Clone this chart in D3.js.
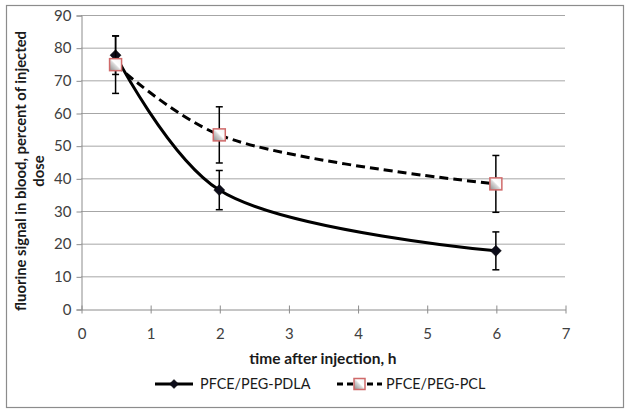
<!DOCTYPE html>
<html><head><meta charset="utf-8">
<script src="https://cdn.jsdelivr.net/npm/d3@7"></script>
<style>body{margin:0;background:#fff}svg{display:block}text{font-family:Lato,"Open Sans",sans-serif}</style>
</head><body><svg id="c" width="629" height="413"></svg>
<script>
const times = [0.5, 2, 6];
const pdlaValues = [77.7, 36.4, 17.8];
const pdlaErrors = [5.9, 6.0, 5.8];
const pclValues = [74.8, 53.3, 38.3];
const pclErrors = [8.8, 8.6, 8.7];
const seriesNames = ["PFCE/PEG-PDLA", "PFCE/PEG-PCL"];
const xTicks = [0,1,2,3,4,5,6,7];
const yTicks = [0,10,20,30,40,50,60,70,80,90];
const xTitle = "time after injection, h";
const yTitleLines = ["fluorine signal in blood, percent of injected", "dose"];

const svg = d3.select("#c");
svg.append("rect").attr("x",6.5).attr("y",5.5).attr("width",617).attr("height",402)
  .attr("fill","#fff").attr("stroke","#8c8c8c").attr("stroke-width",1.2);

const x = d3.scaleLinear().domain([0,7]).range([81,565]);
const y = d3.scaleLinear().domain([0,90]).range([309,15]);

const defs = svg.append("defs");
const gr = defs.append("linearGradient").attr("id","sq").attr("x1","0").attr("y1","1").attr("x2","1").attr("y2","0");
gr.append("stop").attr("offset","0").attr("stop-color","#8a8a8a");
gr.append("stop").attr("offset","0.45").attr("stop-color","#d8d8d8");
gr.append("stop").attr("offset","0.55").attr("stop-color","#ffffff");
gr.append("stop").attr("offset","1").attr("stop-color","#f0f0f0");

// gridlines
svg.append("g").selectAll("line").data(yTicks.slice(1)).join("line")
  .attr("x1",x(0)).attr("x2",x(7)).attr("y1",d=>y(d)+0.5).attr("y2",d=>y(d)+0.5)
  .attr("stroke","#a6a6a6").attr("stroke-width",1);

// y axis
const ya = svg.append("g").attr("transform",`translate(${x(0)+0.5},0.5)`)
  .call(d3.axisLeft(y).tickValues(yTicks).tickSize(5).tickPadding(5).tickFormat(d3.format("d")));
ya.selectAll("path,line").attr("stroke","#8c8c8c");
ya.selectAll("text").attr("font-size",15).attr("fill","#404040").attr("font-family","Lato,'Open Sans',sans-serif");

// x axis
const xa = svg.append("g").attr("transform",`translate(0.5,${y(0)+0.5})`)
  .call(d3.axisBottom(x).tickValues(xTicks).tickSizeInner(4).tickSizeOuter(0).tickPadding(15).tickFormat(d3.format("d")));
xa.select("path").attr("stroke","#8c8c8c");
xa.selectAll("line").attr("stroke","#8c8c8c").attr("y1",-4);
xa.selectAll("text").attr("font-size",15).attr("fill","#404040").attr("font-family","Lato,'Open Sans',sans-serif");

// titles
svg.append("text").attr("x",(x(0)+x(7))/2).attr("y",364).attr("text-anchor","middle")
  .attr("font-weight","bold").attr("font-size",15.5).attr("fill","#1a1a1a").text(xTitle);
const yt = svg.append("text").attr("transform","translate(26,171) rotate(-90)")
  .attr("text-anchor","middle").attr("font-weight","bold").attr("font-size",14.8).attr("fill","#1a1a1a");
yTitleLines.forEach((t,i)=>yt.append("tspan").attr("x",0).attr("dy",i?18:0).text(t));

const line = d3.line().x(d=>x(d[0])).y(d=>y(d[1])).curve(d3.curveCatmullRom.alpha(0.5));
const pdla = times.map((t,i)=>[t,pdlaValues[i],pdlaErrors[i]]);
const pcl = times.map((t,i)=>[t,pclValues[i],pclErrors[i]]);

function errBars(data){
  const g = svg.append("g").attr("stroke","#000").attr("stroke-width",1.5);
  data.forEach(d=>{
    const cx=x(d[0]);
    g.append("line").attr("x1",cx).attr("x2",cx).attr("y1",y(d[1]+d[2])).attr("y2",y(d[1]-d[2]));
    [d[1]+d[2],d[1]-d[2]].forEach(v=>g.append("line").attr("x1",cx-3.5).attr("x2",cx+3.5).attr("y1",y(v)).attr("y2",y(v)));
  });
}
function diamond(g,cx,cy,r){
  g.append("path").attr("d",`M${cx},${cy-r}L${cx+r},${cy}L${cx},${cy+r}L${cx-r},${cy}Z`).attr("fill","#0d0d1a").attr("stroke","#000").attr("stroke-width",0.5);
}
function square(g,cx,cy,s){
  g.append("rect").attr("x",cx-s/2).attr("y",cy-s/2).attr("width",s).attr("height",s)
    .attr("fill","url(#sq)").attr("stroke","#d06a6a").attr("stroke-width",1.5);
}

// PDLA
errBars(pdla);
svg.append("path").datum(pdla).attr("d",line).attr("fill","none").attr("stroke","#000").attr("stroke-width",3);
const mg1 = svg.append("g");
pdla.forEach(d=>diamond(mg1,x(d[0]),y(d[1]),5.5));

// PCL
errBars(pcl);
svg.append("path").datum(pcl).attr("d",line).attr("fill","none").attr("stroke","#000").attr("stroke-width",3).attr("stroke-dasharray","9,5");
const mg2 = svg.append("g");
pcl.forEach(d=>square(mg2,x(d[0]),y(d[1]),12));

// legend
const ly=384;
const lg = svg.append("g");
lg.append("line").attr("x1",155).attr("x2",193).attr("y1",ly).attr("y2",ly).attr("stroke","#000").attr("stroke-width",3);
diamond(lg,174,ly,4.5);
lg.append("text").attr("x",200).attr("y",ly+5).attr("font-size",14.4).attr("fill","#1a1a1a").text(seriesNames[0]);
lg.append("line").attr("x1",337).attr("x2",382).attr("y1",ly).attr("y2",ly).attr("stroke","#000").attr("stroke-width",3).attr("stroke-dasharray","6,4");
square(lg,359.5,ly,11);
lg.append("text").attr("x",386).attr("y",ly+5).attr("font-size",14.4).attr("fill","#1a1a1a").text(seriesNames[1]);
</script></body></html>
